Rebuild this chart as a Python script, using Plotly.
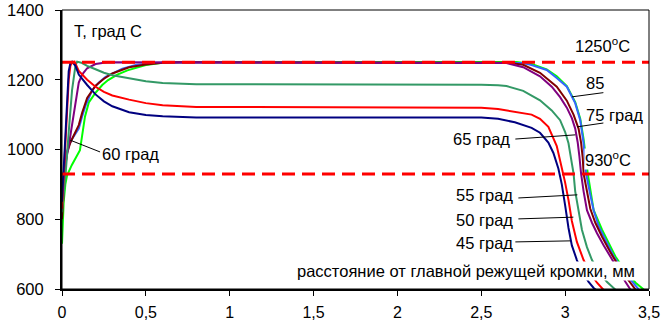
import plotly.graph_objects as go

# ---- data ----
x_45 = [0, 0.01, 0.02, 0.03, 0.04, 0.05, 0.06, 0.08, 0.1, 0.15, 0.2, 0.25, 0.3, 0.4, 0.5, 0.6, 0.7, 0.8, 1.0, 1.5, 2.0,
        2.5, 2.6, 2.7, 2.8, 2.85, 2.9, 2.93, 2.96, 2.98, 3.0, 3.02, 3.04, 3.07, 3.1, 3.14, 3.17, 3.19]
t_45 = [850, 950, 1060, 1160, 1225, 1248, 1252, 1240, 1215, 1185, 1158, 1138, 1124, 1107, 1099, 1095, 1093, 1092, 1092, 1092, 1092,
        1092, 1088, 1078, 1062, 1048, 1020, 990, 945, 900, 840, 775, 725, 683, 650, 620, 603, 595]

x_50 = [0, 0.01, 0.02, 0.03, 0.04, 0.05, 0.06, 0.075, 0.1, 0.15, 0.2, 0.25, 0.3, 0.4, 0.5, 0.6, 0.7, 0.8, 1.0, 1.5, 2.0,
        2.5, 2.6, 2.7, 2.8, 2.85, 2.9, 2.95, 2.98, 3.0, 3.02, 3.04, 3.07, 3.11, 3.15, 3.19, 3.23]
t_50 = [830, 920, 1020, 1120, 1200, 1240, 1250, 1252, 1225, 1200, 1180, 1165, 1155, 1143, 1133, 1127, 1124, 1122, 1122, 1122, 1122,
        1120, 1116, 1108, 1100, 1088, 1065, 1010, 950, 905, 855, 795, 735, 683, 645, 618, 597]

x_55 = [0, 0.02, 0.04, 0.06, 0.08, 0.09, 0.12, 0.15, 0.2, 0.25, 0.3, 0.4, 0.5, 0.6, 0.7, 0.8, 1.0, 2.0,
        2.5, 2.6, 2.65, 2.75, 2.85, 2.92, 2.97, 3.0, 3.02, 3.04, 3.05, 3.06, 3.08, 3.1, 3.13, 3.16, 3.2, 3.25, 3.3]
t_55 = [820, 920, 1050, 1170, 1240, 1252, 1248, 1240, 1230, 1220, 1213, 1204, 1196, 1191, 1188, 1187, 1187, 1187,
        1186, 1184, 1182, 1168, 1141, 1112, 1084, 1050, 1018, 960, 932, 880, 820, 770, 720, 683, 650, 620, 598]

x_60 = [0, 0.02, 0.03, 0.05, 0.07, 0.1, 0.12, 0.15, 0.2, 0.25, 0.3, 0.4, 0.5, 0.6, 0.7, 1.0, 2.0, 2.5,
        2.65, 2.75, 2.85, 2.95, 3.01, 3.05, 3.08, 3.095, 3.105, 3.11, 3.13, 3.15, 3.18, 3.22, 3.27, 3.32, 3.37, 3.42]
t_60 = [800, 950, 990, 1020, 1040, 1070, 1105, 1148, 1183, 1203, 1218, 1236, 1244, 1249, 1250, 1250, 1250, 1250,
        1249, 1243, 1220, 1180, 1140, 1100, 1060, 1020, 975, 931, 880, 830, 790, 750, 705, 665, 630, 598]

x_65 = [0, 0.02, 0.04, 0.06, 0.08, 0.1, 0.12, 0.15, 0.2, 0.25, 0.3, 1.0, 2.0, 2.55,
        2.65, 2.75, 2.85, 2.92, 2.97, 3.01, 3.04, 3.06, 3.075, 3.085, 3.095, 3.11, 3.13, 3.16, 3.19, 3.23, 3.27, 3.32, 3.36, 3.39]
t_65 = [880, 960, 1010, 1075, 1140, 1192, 1215, 1233, 1245, 1249, 1250, 1250, 1250, 1250,
        1248, 1236, 1210, 1180, 1150, 1120, 1090, 1060, 1020, 980, 931, 880, 826, 790, 760, 725, 692, 650, 620, 598]

x_75 = [0, 0.01, 0.02, 0.04, 0.06, 0.08, 0.1, 0.12, 0.14, 0.18, 0.22, 0.26, 0.3, 0.36, 0.44, 0.55, 0.7, 1.0, 2.0, 2.7,
        2.75, 2.8, 2.89, 2.95, 3.01, 3.06, 3.09, 3.11, 3.12, 3.125, 3.15, 3.17, 3.2, 3.24, 3.29, 3.35, 3.4, 3.44]
t_75 = [830, 930, 980, 1010, 1030, 1045, 1060, 1095, 1125, 1170, 1192, 1208, 1218, 1232, 1242, 1248, 1250, 1250, 1250, 1250,
        1248, 1242, 1228, 1205, 1180, 1133, 1084, 1018, 960, 931, 870, 826, 780, 740, 693, 650, 620, 598]

x_85 = [0, 0.005, 0.01, 0.02, 0.03, 0.058, 0.08, 0.107, 0.12, 0.137, 0.16, 0.197, 0.24, 0.275, 0.33, 0.39, 0.5, 0.62, 0.8, 2.0, 2.71,
        2.8, 2.89, 2.95, 3.01, 3.06, 3.09, 3.11, 3.125, 3.135, 3.17, 3.22, 3.3, 3.36, 3.42, 3.47]
t_85 = [730, 800, 850, 900, 925, 955, 975, 998, 1040, 1094, 1135, 1161, 1185, 1199, 1215, 1227, 1242, 1250, 1251, 1251, 1251,
        1245, 1230, 1210, 1182, 1136, 1088, 1030, 975, 931, 826, 770, 693, 650, 618, 598]

limit_high = 1250
limit_low = 930
x_span = [0, 3.5]

tick_vals = [0, 0.5, 1, 1.5, 2, 2.5, 3, 3.5]
tick_text = ["0", "0,5", "1", "1,5", "2", "2,5", "3", "3,5"]

series = [
    ("85 град", x_85, t_85, "#00FF00"),
    ("75 град", x_75, t_75, "#3366FF"),
    ("60 град", x_60, t_60, "#800000"),
    ("65 град", x_65, t_65, "#800080"),
    ("55 град", x_55, t_55, "#339966"),
    ("50 град", x_50, t_50, "#FF0000"),
    ("45 град", x_45, t_45, "#000080"),
]

FONT = "Liberation Sans, Arial, sans-serif"
FS = 16.5

fig = go.Figure()
for name, xs, ts, col in series:
    fig.add_trace(go.Scatter(x=xs, y=ts, mode="lines", name=name,
                             line=dict(color=col, width=2), showlegend=False,
                             hoverinfo="skip"))

for lim in (limit_high, limit_low):
    fig.add_trace(go.Scatter(x=x_span, y=[lim, lim], mode="lines", showlegend=False,
                             line=dict(color="#FF0000", width=3, dash="13px,7px"),
                             hoverinfo="skip"))

# pointer lines (label -> curve), data coords
pointers = [
    (3.228, 1163, 3.041, 1151),
    (3.228, 1076, 3.071, 1065),
    (2.703, 1030, 3.061, 1042),
    (2.721, 861, 3.073, 870),
    (2.721, 801, 3.049, 806),
    (2.703, 735, 3.031, 738),
    (0.227, 993, 0.048, 1027),
]
shapes = []
for x0, y0, x1, y1 in pointers:
    shapes.append(dict(type="line", xref="x", yref="y", x0=x0, y0=y0, x1=x1, y1=y1,
                       line=dict(color="black", width=1)))
shapes.append(dict(type="rect", xref="paper", yref="paper", x0=0, y0=0, x1=1, y1=1,
                   line=dict(color="black", width=1)))

def ann(text, x, y, xanchor="left", bg=None):
    d = dict(text=text, x=x, y=y, xref="x", yref="y", showarrow=False,
             xanchor=xanchor, yanchor="middle", font=dict(family=FONT, size=FS, color="black"))
    if bg:
        d["bgcolor"] = bg
        d["borderpad"] = 0
    return d

annotations = [
    ann("T, град С", 0.06, 1340),
    ann("1250<sup>o</sup>C", 3.049, 1300),
    ann("85", 3.115, 1192),
    ann("75 град", 3.115, 1099),
    ann("65 град", 2.685, 1029, xanchor="right"),
    ann("930<sup>o</sup>C", 3.115, 974, bg="white"),
    ann("55 град", 2.703, 870, xanchor="right"),
    ann("50 град", 2.703, 798, xanchor="right"),
    ann("45 град", 2.703, 733, xanchor="right"),
    ann("60 град", 0.227, 987),
    ann("расстояние от главной режущей кромки, мм", 3.42, 652, xanchor="right", bg="white"),
]

fig.update_layout(
    width=670, height=321,
    margin=dict(l=62, r=21, t=10, b=32, autoexpand=False),
    paper_bgcolor="white", plot_bgcolor="white",
    font=dict(family=FONT, size=FS, color="black"),
    shapes=shapes, annotations=annotations,
    xaxis=dict(range=[0, 3.5], tickvals=tick_vals, ticktext=tick_text, automargin=False,
               showgrid=False, zeroline=False, showline=True, linecolor="black", linewidth=2,
               ticks="outside", ticklen=5, tickcolor="black", tickwidth=1,
               ticklabelstandoff=3, tickfont=dict(size=16)),
    yaxis=dict(range=[600, 1400], tickvals=[600, 800, 1000, 1200, 1400], automargin=False,
               showgrid=False, zeroline=False, showline=True, linecolor="black", linewidth=2,
               ticks="outside", ticklen=5, tickcolor="black", tickwidth=1,
               ticklabelstandoff=8, tickfont=dict(size=FS)),
)

fig.write_html("out.html", config={"displayModeBar": False, "staticPlot": True},
               post_script="document.body.style.margin='0px';document.body.style.padding='0px';document.body.style.overflow='hidden';")
